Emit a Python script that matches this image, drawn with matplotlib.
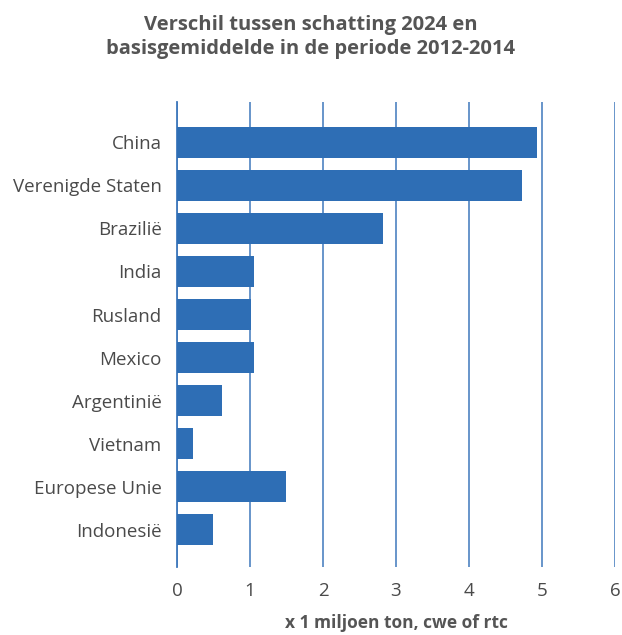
import matplotlib
matplotlib.use("Agg")
import matplotlib.pyplot as plt

# data
countries = ["China", "Verenigde Staten", "Brazilië", "India", "Rusland",
             "Mexico", "Argentinië", "Vietnam", "Europese Unie", "Indonesië"]
values = [4.93, 4.73, 2.82, 1.05, 1.01, 1.05, 0.62, 0.22, 1.49, 0.49]
x_ticks = [0, 1, 2, 3, 4, 5, 6]

title = "Verschil tussen schatting 2024 en\nbasisgemiddelde in de periode 2012-2014"
x_label = "x 1 miljoen ton, cwe of rtc"

bar_color = "#2E6EB5"
grid_color = "#3F78BC"
text_color = "#4A4A4A"

plt.rcParams["font.family"] = ["Open Sans", "DejaVu Sans"]

fig = plt.figure(figsize=(6.22, 6.35), dpi=100)
ax = fig.add_axes([0.2846, 0.1071, 0.7041, 0.7323])

ypos = list(range(len(countries)))
ax.barh(ypos, values, height=0.72, color=bar_color, zorder=3)

ax.set_xlim(0, 6)
ax.set_ylim(len(countries) - 1 + 0.86, -0.935)
ax.set_xticks(x_ticks)
ax.set_xticklabels([str(t) for t in x_ticks])
ax.set_yticks(ypos)
ax.set_yticklabels(countries)

ax.xaxis.grid(True, color=grid_color, linewidth=1.1, zorder=0)
ax.set_axisbelow(True)
for side in ["top", "right", "bottom"]:
    ax.spines[side].set_visible(False)
ax.spines["left"].set_color(grid_color)
ax.spines["left"].set_linewidth(1.3)

ax.tick_params(axis="both", length=0, labelsize=13.5, colors=text_color)
ax.tick_params(axis="y", pad=11)
ax.tick_params(axis="x", pad=11)

ax.set_xlabel(x_label, fontsize=12.5, fontweight="bold", color="#555555", labelpad=10)
fig.text(0.5, 0.977, title, ha="center", va="top", fontsize=14.5,
         fontweight="bold", color="#555555", linespacing=1.3)

fig.savefig("out.png", dpi=100)
